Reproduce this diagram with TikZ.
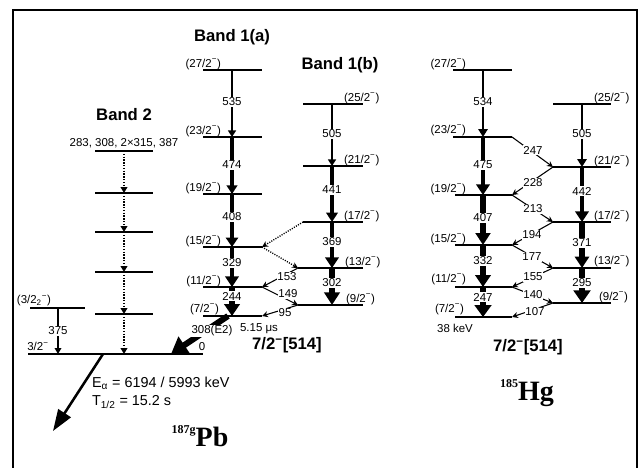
\documentclass[tikz,border=0pt]{standalone}
\usepackage{fontspec}
\setmainfont{Liberation Sans}
\newfontfamily\nucfont{Liberation Serif}
\usetikzlibrary{arrows.meta}
\newcommand\mn{\textsuperscript{−}}
\newcommand\lev[5]{\coordinate (#1L) at (#2,#5); \coordinate (#1R) at (#3,#5); \coordinate (#1C) at (#4,#5); \draw[level] (#1L) -- (#1R);}
\newcommand\gam[5]{\draw[line width=#3pt,-{Triangle[length=#4pt,width=#5pt]}] (#1C) -- (#2C);}
\newcommand\crs[2]{\draw[cross] (#1) -- (#2);}
\begin{document}
\begin{tikzpicture}[x=0.75pt,y=-0.75pt,
  level/.style={line width=1.1pt},
  cross/.style={line width=0.8pt,-{Stealth[length=4.5pt,width=4.5pt]}},
  dotarr/.style={line width=1.1pt,densely dotted,-{Triangle[length=4.5pt,width=5pt]}},
  sm/.style={font=\fontsize{8.6}{9}\selectfont, inner sep=0.6pt},
  en/.style={sm, fill=white},
  lleft/.style={sm, anchor=base east},
  lright/.style={sm, anchor=base west},
  band/.style={font=\fontsize{12.5}{13}\selectfont\bfseries, inner sep=0pt},
  nuc/.style={font=\fontsize{21}{22}\selectfont\nucfont\bfseries, inner sep=0pt}]
\useasboundingbox (0,0) rectangle (641,467);
\draw[line width=1.8pt] (13,475) -- (13,10) -- (637,10) -- (637,475);

% ---------------- 187Pb ----------------
\node[band] (tb1a) at (232,37) {Band 1(a)};
\node[band] (tb1b) at (340,65) {Band 1(b)};
\node[band] (tb2) at (124,115) {Band 2};

% band 1(a)
\lev{pa27}{203}{262}{232}{70}
\lev{pa23}{203}{262}{232}{137}
\lev{pa19}{203}{262}{232}{194}
\lev{pa15}{203}{262}{232}{247}
\lev{pa11}{203}{262}{232}{287}
\lev{pa7}{203}{262}{232}{316}
% band 1(b)
\lev{pb25}{303}{363}{332}{104}
\lev{pb21}{303}{363}{332}{166}
\lev{pb17}{303}{363}{332}{222}
\lev{pb13}{298}{363}{332}{268}
\lev{pb9}{298}{363}{332}{305}
% band 2
\lev{p2a}{95}{153}{124}{151}
\lev{p2b}{95}{153}{124}{193}
\lev{p2c}{95}{153}{124}{232}
\lev{p2d}{95}{153}{124}{272}
\lev{p2e}{95}{153}{124}{314}
% 3/2_2 and ground
\lev{p32}{30}{85}{58}{308}
\lev{gnd}{28}{203}{58}{354}
\coordinate (g2) at (124,354);
\coordinate (galpha) at (103,354);
\coordinate (alphaend) at (53,431);
\coordinate (e2start) at (228,316);
\coordinate (e2end) at (171,354);

% vertical gammas band 1(a)
\gam{pa27}{pa23}{1.9}{5}{6}
\gam{pa23}{pa19}{2.6}{6.5}{8}
\gam{pa19}{pa15}{3.0}{7}{9}
\gam{pa15}{pa11}{3.6}{8}{10}
\gam{pa11}{pa7}{4.2}{9}{11.5}
% band 1(b)
\gam{pb25}{pb21}{1.9}{5}{6}
\gam{pb21}{pb17}{2.8}{7}{8.5}
\gam{pb17}{pb13}{3.4}{8}{10}
\gam{pb13}{pb9}{4.2}{9.5}{11.5}
% cross transitions
\draw[cross,densely dotted,line width=1pt] (pb17L) -- (pa15R);
\draw[cross,densely dotted,line width=1pt] (pa15R) -- (pb13L);
\crs{pb13L}{pa11R}
\crs{pa11R}{pb9L}
\crs{pb9L}{pa7R}
% band 2
\draw[dotarr] (p2aC) -- (p2bC);
\draw[dotarr] (p2bC) -- (p2cC);
\draw[dotarr] (p2cC) -- (p2dC);
\draw[dotarr] (p2dC) -- (p2eC);
\draw[dotarr] (p2eC) -- (g2);
\draw[line width=0.9pt,-{Triangle[length=4.5pt,width=5pt]}] (p32C) -- (gndC);
% 308(E2)
\draw[line width=4.5pt,-{Triangle[length=12pt,width=15pt]}] (e2start) -- (e2end);
% alpha
\draw[line width=1.9pt,-{Triangle[length=16pt,width=11pt]}] (galpha) -- (alphaend);

% labels
\node[lleft] (lpa27) at (222,67) {(27/2\mn)};
\node[lleft] (lpa23) at (222,134) {(23/2\mn)};
\node[lleft] (lpa19) at (222,191) {(19/2\mn)};
\node[lleft] (lpa15) at (222,244) {(15/2\mn)};
\node[lleft] (lpa11) at (222,284) {(11/2\mn)};
\node[lleft] (lpa7) at (220,312) {(7/2\mn)};
\node[lright] (lpb25) at (343,101) {(25/2\mn)};
\node[lright] (lpb21) at (343,163) {(21/2\mn)};
\node[lright] (lpb17) at (343,219) {(17/2\mn)};
\node[lright] (lpb13) at (344,265) {(13/2\mn)};
\node[lright] (lpb9) at (345,302) {(9/2\mn)};

\node[en] (e535) at (232,102) {535};
\node[en] (e474) at (232,165) {474};
\node[en] (e408) at (232,217) {408};
\node[en] (e329) at (232,263) {329};
\node[en] (e244) at (232,296) {244};
\node[en] (e505p) at (332,134) {505};
\node[en] (e441) at (332,190) {441};
\node[en] (e369) at (332,242) {369};
\node[en] (e302) at (332,283) {302};
\node[en] (e153) at (287,277) {153};
\node[en] (e149) at (288,294) {149};
\node[en] (e95) at (285,313) {95};

\node[sm] (t2list) at (124,143) {283, 308, 2×315, 387};
\node[sm] (l32) at (34,301) {(3/2\textsubscript{2}\textsuperscript{−})};
\node[sm] (l32g) at (38,346) {3/2\mn};
\node[en] (e375) at (58,331) {375};
\node[sm] (lzero) at (202,347) {0};
\node[en] (e308) at (212,331) {308(E2)};
\node[sm] (thalf) at (259,329) {5.15 μs};
\node[band] (cfgp) at (287,345) {7/2\mn[514]};
\node[sm, font=\fontsize{10.8}{12}\selectfont, anchor=west] (ealpha) at (91,383) {E\textsubscript{α} = 6194 / 5993 keV};
\node[sm, font=\fontsize{10.8}{12}\selectfont, anchor=west] (talpha) at (91,402) {T\textsubscript{1/2} = 15.2 s};
\node[nuc] (pb) at (200,436) {\raisebox{1.05ex}{\fontsize{9}{9}\selectfont 187g}Pb};

% ---------------- 185Hg ----------------
\lev{ha27}{453}{512}{483}{70}
\lev{ha23}{453}{512}{483}{137}
\lev{ha19}{455}{512}{483}{195}
\lev{ha15}{455}{512}{483}{245}
\lev{ha11}{455}{512}{483}{287}
\lev{ha7}{455}{512}{483}{317}
\lev{hb25}{553}{611}{582}{104}
\lev{hb21}{553}{611}{582}{167}
\lev{hb17}{553}{611}{582}{222}
\lev{hb13}{553}{611}{582}{268}
\lev{hb9}{553}{611}{582}{303}

\gam{ha27}{ha23}{2.2}{6}{7}
\gam{ha23}{ha19}{3.4}{8}{10}
\gam{ha19}{ha15}{4.0}{9}{11}
\gam{ha15}{ha11}{4.2}{9}{11.5}
\gam{ha11}{ha7}{4.5}{9}{12.5}
\gam{hb25}{hb21}{2.2}{6}{7}
\gam{hb21}{hb17}{3.6}{8}{10}
\gam{hb17}{hb13}{3.8}{8.5}{10.5}
\gam{hb13}{hb9}{4.5}{9.5}{12.5}

\crs{ha23R}{hb21L}
\crs{hb21L}{ha19R}
\crs{ha19R}{hb17L}
\crs{hb17L}{ha15R}
\crs{ha15R}{hb13L}
\crs{hb13L}{ha11R}
\crs{ha11R}{hb9L}
\crs{hb9L}{ha7R}

\node[lleft] (lha27) at (467,67) {(27/2\mn)};
\node[lleft] (lha23) at (467,133) {(23/2\mn)};
\node[lleft] (lha19) at (467,192) {(19/2\mn)};
\node[lleft] (lha15) at (467,242) {(15/2\mn)};
\node[lleft] (lha11) at (467,282) {(11/2\mn)};
\node[lleft] (lha7) at (465,312) {(7/2\mn)};
\node[lright] (lhb25) at (593,101) {(25/2\mn)};
\node[lright] (lhb21) at (593,164) {(21/2\mn)};
\node[lright] (lhb17) at (593,219) {(17/2\mn)};
\node[lright] (lhb13) at (593,264) {(13/2\mn)};
\node[lright] (lhb9) at (598,300) {(9/2\mn)};

\node[en] (e534) at (483,102) {534};
\node[en] (e475) at (483,165) {475};
\node[en] (e407) at (483,218) {407};
\node[en] (e332) at (483,261) {332};
\node[en] (e247a) at (483,297) {247};
\node[en] (e505h) at (582,134) {505};
\node[en] (e442) at (582,191) {442};
\node[en] (e371) at (582,243) {371};
\node[en] (e295) at (582,283) {295};
\node[en] (e247) at (533,150) {247};
\node[en] (e228) at (533,183) {228};
\node[en] (e213) at (533,209) {213};
\node[en] (e194) at (532,235) {194};
\node[en] (e177) at (532,257) {177};
\node[en] (e155) at (533,277) {155};
\node[en] (e140) at (533,295) {140};
\node[en] (e107) at (535,312) {107};

\node[sm] (l38) at (455,328) {38 keV};
\node[band] (cfgh) at (528,347) {7/2\mn[514]};
\node[nuc] (hg) at (527,393) {\raisebox{1.05ex}{\fontsize{9}{9}\selectfont 185}Hg};
\end{tikzpicture}
\end{document}
